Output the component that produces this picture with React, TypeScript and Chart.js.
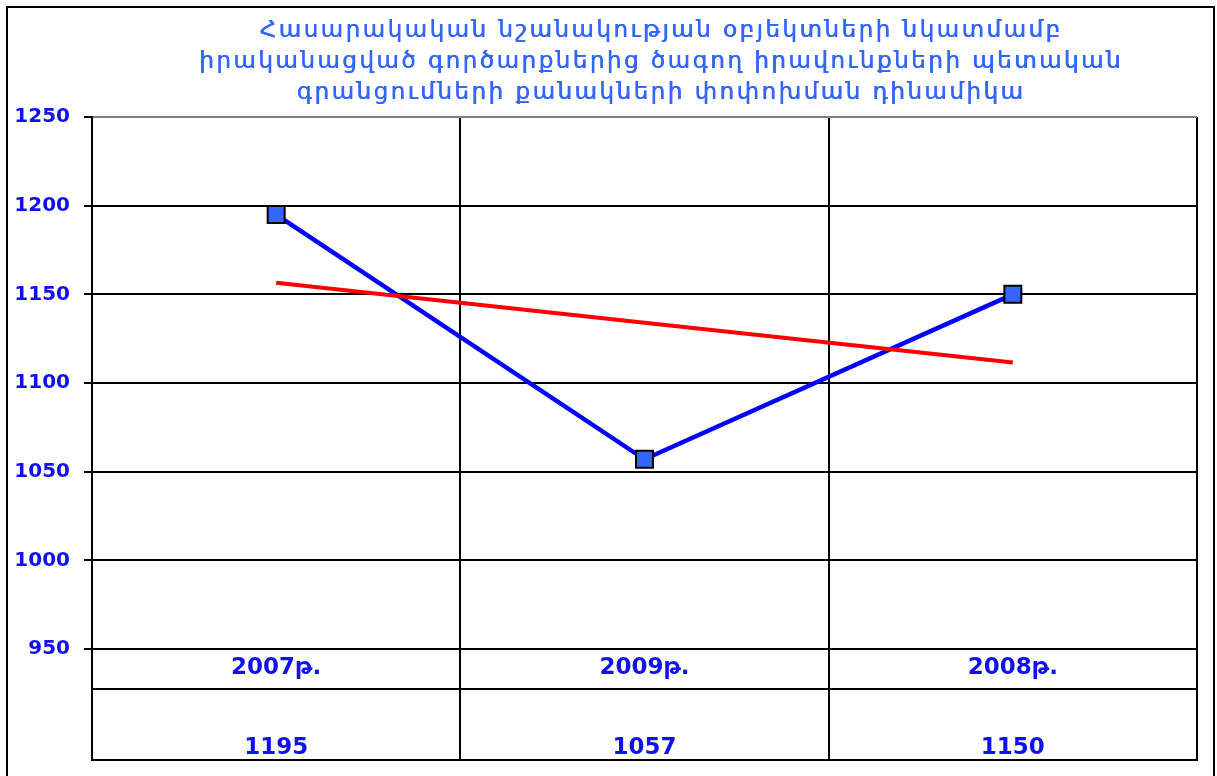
import React, { useEffect, useRef } from "react";
import { Chart, registerables } from "chart.js";

Chart.register(...registerables);

const titleLines = [
  "Հասարակական նշանակության օբյեկտների նկատմամբ",
  "իրականացված գործարքներից ծագող իրավունքների պետական",
  "գրանցումների քանակների փոփոխման դինամիկա",
];
const categories = ["2007թ.", "2009թ.", "2008թ."];
const values = [1195, 1057, 1150];
const trendValues = [1156.5, 1134, 1111.5];
const yMin = 950;
const yMax = 1250;
const yStep = 50;

const FONT = "'DejaVu Sans', 'Liberation Sans', Arial, sans-serif";
const TEXT_BLUE = "#1010f0";

const framePlugin = {
  id: "frameAndTable",
  beforeDraw(chart: any) {
    const { ctx, width, height } = chart;
    ctx.save();
    ctx.fillStyle = "#ffffff";
    ctx.fillRect(0, 0, width, height);
    ctx.strokeStyle = "#000000";
    ctx.lineWidth = 2;
    ctx.strokeRect(7, 7, 1207, 820);
    // title
    ctx.fillStyle = "#3366ff";
    ctx.font = `23px ${FONT}`;
    (ctx as any).letterSpacing = "2.5px";
    ctx.textAlign = "center";
    ctx.textBaseline = "alphabetic";
    const baselines = [37, 68, 99];
    titleLines.forEach((t, i) => {
      ctx.fillText(t, 661, baselines[i]);
      ctx.fillText(t, 661.6, baselines[i]);
    });
    (ctx as any).letterSpacing = "0px";
    ctx.restore();
  },
  afterDraw(chart: any) {
    const { ctx, chartArea } = chart;
    const xs = chart.scales.x;
    const n = categories.length;
    const centers = categories.map((_, i) => xs.getPixelForValue(i));
    const half = (centers[1] - centers[0]) / 2;
    const bounds = [centers[0] - half, ...centers.map((c) => c + half)];
    const rowLine = 689;
    const bottom = 760;
    ctx.save();
    ctx.strokeStyle = "#000000";
    ctx.lineWidth = 2;
    ctx.beginPath();
    bounds.forEach((b) => {
      ctx.moveTo(Math.round(b), chartArea.bottom);
      ctx.lineTo(Math.round(b), bottom);
    });
    ctx.moveTo(chartArea.left, rowLine);
    ctx.lineTo(chartArea.right, rowLine);
    ctx.moveTo(chartArea.left - 1, bottom);
    ctx.lineTo(chartArea.right + 1, bottom);
    ctx.stroke();
    ctx.fillStyle = TEXT_BLUE;
    ctx.font = `bold 23px ${FONT}`;
    ctx.textAlign = "center";
    ctx.textBaseline = "alphabetic";
    for (let i = 0; i < n; i++) {
      ctx.fillText(String(values[i]), centers[i], 754);
    }
    ctx.restore();
  },
};

export default function App() {
  const ref = useRef<HTMLCanvasElement>(null);
  useEffect(() => {
    if (!ref.current) return;
    const chart = new Chart(ref.current, {
      type: "line",
      data: {
        labels: categories,
        datasets: [
          {
            label: "values",
            data: values,
            borderColor: "#0000ff",
            borderWidth: 4.5,
            pointStyle: "rect",
            pointRadius: 12,
            pointBackgroundColor: "#3366ff",
            pointBorderColor: "#000000",
            pointBorderWidth: 2,
            order: 1,
            tension: 0,
          },
          {
            label: "trend",
            data: trendValues,
            borderColor: "#ff0000",
            borderWidth: 4,
            pointRadius: 0,
            order: 0,
            tension: 0,
          },
        ],
      },
      options: {
        animation: false,
        responsive: false,
        layout: { padding: { top: 117, right: 20, bottom: 16, left: 0 } },
        plugins: {
          legend: { display: false },
          tooltip: { enabled: false },
          title: { display: false },
        },
        scales: {
          x: {
            offset: true,
            afterFit: (s: any) => {
              s.height = 111;
            },
            grid: {
              offset: true,
              drawTicks: false,
              lineWidth: 2,
              color: (c: any) => (c.index === categories.length ? "#808080" : "#000000"),
            },
            border: { display: true, color: "#000000", width: 2 },
            ticks: {
              color: TEXT_BLUE,
              font: { family: FONT, size: 23, weight: "bold" },
              padding: 5,
              maxRotation: 0,
            },
          },
          y: {
            min: yMin,
            max: yMax,
            afterFit: (s: any) => {
              s.width = 92;
            },
            grid: {
              lineWidth: 2,
              tickLength: 8,
              tickColor: "#000000",
              color: (c: any) => (c.tick && c.tick.value === yMax ? "#808080" : "#000000"),
            },
            border: { display: true, color: "#000000", width: 2 },
            ticks: {
              stepSize: yStep,
              color: TEXT_BLUE,
              font: { family: FONT, size: 20, weight: "bold" },
              padding: 14,
              callback: (v: any) => String(v),
            },
          },
        },
      },
      plugins: [framePlugin],
    });
    return () => chart.destroy();
  }, []);
  return (
    <div style={{ position: "fixed", left: 0, top: 0, width: 1217, height: 776, background: "#fff" }}>
      <canvas ref={ref} width={1217} height={776} />
    </div>
  );
}
